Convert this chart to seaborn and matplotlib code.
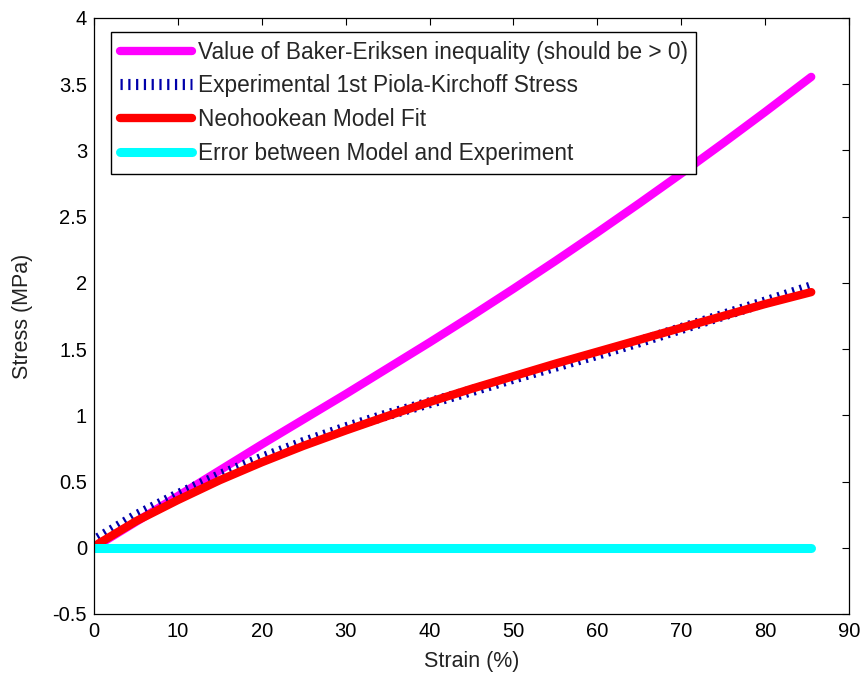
import matplotlib
matplotlib.use("Agg")
import matplotlib.pyplot as plt
import seaborn as sns
import pandas as pd

# ---- data ----
strain = [0.5, 5, 10, 15, 20, 25, 30, 35, 40, 45, 50, 55, 60, 65, 70, 75, 80, 85.5]
baker_eriksen = [0.02, 0.195, 0.39, 0.585, 0.78, 0.97, 1.16, 1.355, 1.55, 1.75, 1.955,
                 2.165, 2.38, 2.60, 2.825, 3.055, 3.29, 3.555]
experimental = [0.07, 0.24, 0.40, 0.545, 0.675, 0.795, 0.905, 1.005, 1.095, 1.185, 1.28,
                1.37, 1.46, 1.555, 1.655, 1.755, 1.855, 1.97]
neohookean = [0.03, 0.20, 0.36, 0.51, 0.645, 0.77, 0.885, 0.995, 1.10, 1.20, 1.295, 1.39,
              1.48, 1.57, 1.66, 1.75, 1.84, 1.93]
error_strain = [0, 10, 20, 30, 40, 50, 60, 70, 80, 85.5]
error_vals = [0.0, 0.0, 0.0, 0.0, 0.0, 0.0, 0.0, 0.0, 0.0, 0.0]

labels = ["Value of Baker-Eriksen inequality (should be > 0)",
          "Experimental 1st Piola-Kirchoff Stress",
          "Neohookean Model Fit",
          "Error between Model and Experiment"]
xticks = [0, 10, 20, 30, 40, 50, 60, 70, 80, 90]
yticks = [-0.5, 0, 0.5, 1, 1.5, 2, 2.5, 3, 3.5, 4]
ytick_labels = ["-0.5", "0", "0.5", "1", "1.5", "2", "2.5", "3", "3.5", "4"]

sns.set_theme(style="white")
plt.rcParams["font.family"] = ["Liberation Sans", "DejaVu Sans"]

df = pd.DataFrame({"strain": strain, "be": baker_eriksen,
                   "exp": experimental, "neo": neohookean})
df_err = pd.DataFrame({"strain": error_strain, "err": error_vals})

fig = plt.figure(figsize=(8.62, 6.77), dpi=100)
ax = fig.add_axes([0.1090, 0.0931, 0.8759, 0.8804])

sns.lineplot(data=df, x="strain", y="be", ax=ax, color="#ff00ff", linewidth=6,
             label=labels[0])
sns.lineplot(data=df, x="strain", y="exp", ax=ax, color="#0000aa", linewidth=8,
             linestyle=(0, (0.2, 0.5)), label=labels[1])
sns.lineplot(data=df, x="strain", y="neo", ax=ax, color="#ff0000", linewidth=6,
             label=labels[2])
sns.lineplot(data=df_err, x="strain", y="err", ax=ax, color="#00ffff", linewidth=6.5,
             label=labels[3])

ax.set_xlim(0, 90)
ax.set_ylim(-0.5, 4)
ax.set_xticks(xticks)
ax.set_xticklabels([str(v) for v in xticks])
ax.set_yticks(yticks)
ax.set_yticklabels(ytick_labels)
ax.tick_params(direction="in", length=5, width=0.8, top=True, right=True,
               labelsize=14.5, colors="black")
ax.tick_params(axis="x", pad=6)
ax.tick_params(axis="y", pad=5)
for s in ax.spines.values():
    s.set_visible(True)
    s.set_color("black")
    s.set_linewidth(0.9)
ax.set_xlabel("Strain (%)", fontsize=15.5, color="#222222", labelpad=7)
ax.set_ylabel("Stress (MPa)", fontsize=15.5, color="#222222", labelpad=14)

leg = ax.legend(loc="upper left", bbox_to_anchor=(0.0225, 0.9765), borderaxespad=0,
                fontsize=16.3, frameon=True, fancybox=False, framealpha=1,
                edgecolor="black", handlelength=3.2, handletextpad=0.25,
                labelspacing=0.48, borderpad=0.38)
leg.get_frame().set_linewidth(1.0)

fig.savefig("out.png", dpi=100)
